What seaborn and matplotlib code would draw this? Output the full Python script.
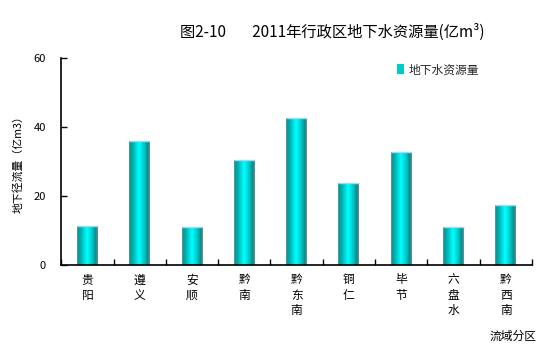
import numpy as np
import pandas as pd
import matplotlib
matplotlib.use("Agg")
import matplotlib.pyplot as plt
import seaborn as sns
from matplotlib.colors import LinearSegmentedColormap
from matplotlib.patches import Patch

# Groundwater resources by administrative region, 2011 (100 million m³)
regions = ["贵阳", "遵义", "安顺", "黔南", "黔东南", "铜仁", "毕节", "六盘水", "黔西南"]
groundwater = [11.2, 36.0, 11.0, 30.5, 42.6, 23.7, 32.7, 10.9, 17.5]
y_ticks = [0, 20, 40, 60]
series_name = "地下水资源量"

sns.set_theme(style="white")
plt.rcParams["font.family"] = ["Noto Sans CJK SC", "DejaVu Sans"]

df = pd.DataFrame({"区域": regions, series_name: groundwater})

fig = plt.figure(figsize=(5.54, 3.48), dpi=100)
ax = fig.add_axes([0.1107, 0.2385, 0.8493, 0.594])
sns.barplot(data=df, x="区域", y=series_name, color="#00cccc",
            width=0.4, saturation=1, ax=ax)

# cylinder-style horizontal shading inside each bar
cyl = LinearSegmentedColormap.from_list(
    "cyl",
    [(0.0, "#8a9a9a"), (0.06, "#009696"), (0.2, "#00b4b4"), (0.35, "#00dcdc"),
     (0.47, "#00ffff"), (0.6, "#00e6e6"), (0.75, "#00c0c0"), (0.9, "#008c8c"),
     (1.0, "#7f8f8f")])
grad = np.linspace(0, 1, 256).reshape(1, -1)
for p in list(ax.patches):
    x0, y0 = p.get_x(), p.get_y()
    w, h = p.get_width(), p.get_height()
    im = ax.imshow(grad, cmap=cyl, aspect="auto", interpolation="bilinear",
                   extent=(x0, x0 + w, y0, y0 + h), zorder=p.get_zorder() + 0.1)
    im.set_clip_path(p)
    ax.plot([x0, x0 + w], [y0 + h, y0 + h], color="#a8d8f0", lw=1,
            zorder=p.get_zorder() + 0.2, solid_capstyle="butt")

ax.set_xlim(-0.5, len(regions) - 0.5)
ax.set_ylim(0, 60)
ax.set_yticks(y_ticks)
ax.set_xticks(range(len(regions)))
ax.set_xticklabels(["\n".join(r) for r in regions])
ax.set_xticks(np.arange(-0.5, len(regions), 1), minor=True)
ax.tick_params(axis="x", which="major", length=0, pad=6, labelsize=8.5,
               labelcolor="black")
ax.tick_params(axis="x", which="minor", direction="in", length=4, width=1,
               color="black", bottom=True)
ax.tick_params(axis="y", direction="in", length=4, width=1, color="black",
               pad=11, labelsize=8, labelcolor="black", left=True)
for lbl in ax.get_xticklabels():
    lbl.set_linespacing(1.25)

for s in ["top", "right"]:
    ax.spines[s].set_visible(False)
for s in ["left", "bottom"]:
    ax.spines[s].set_color("black")
    ax.spines[s].set_linewidth(1.2)

ax.set_xlabel("")
ax.set_ylabel("地下径流量（亿m3）", fontsize=7.8, color="black")
ax.yaxis.set_label_coords(-0.081, 0.5)

fig.text(0.600, 0.908, "图2-10\u3000\u2002 2011年行政区地下水资源量(亿m³)",
         ha="center", va="center", fontsize=11, color="black")
fig.text(0.969, 0.034, "流域分区", ha="right", va="center", fontsize=8.5,
         color="black")

ax.legend(handles=[Patch(facecolor="#00cccc", edgecolor="none")],
          labels=[series_name], loc="center left",
          bbox_to_anchor=(0.716, 0.799), bbox_transform=fig.transFigure,
          frameon=False, fontsize=8.5, handlelength=0.6, handleheight=0.9,
          handletextpad=0.4, borderpad=0, borderaxespad=0)

fig.savefig("out.png", dpi=100)
